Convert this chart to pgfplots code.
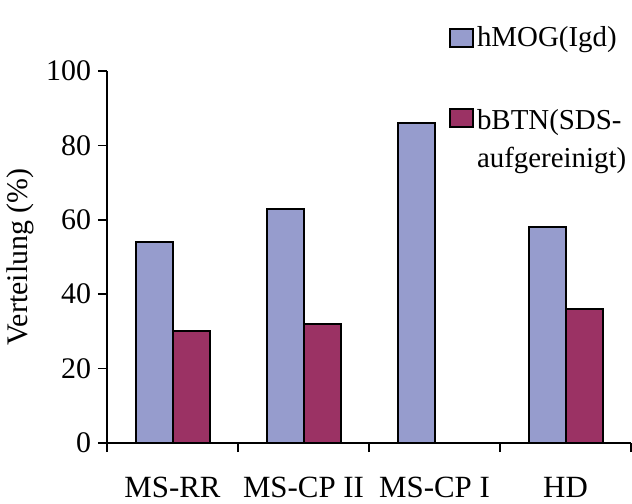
\documentclass[border=0pt]{standalone}
\usepackage{pgfplots}
\pgfplotsset{compat=1.18}
\usepackage{fontspec}
\setmainfont{Liberation Serif}
\definecolor{hmog}{RGB}{150,156,205}
\definecolor{bbtn}{RGB}{155,50,100}
\begin{document}
\begin{tikzpicture}
\begin{axis}[
  at={(0,0)}, anchor=south west,
  scale only axis, width=262bp, height=186bp,
  xmin=-0.5, xmax=3.5, ymin=0, ymax=100,
  axis lines*=left,
  axis line style={line width=0.8bp},
  ybar=0pt, bar width=18.5bp,
  ytick={0,20,40,60,80,100},
  xtick={-0.5,0.5,1.5,2.5,3.5}, xticklabels={},
  extra x ticks={0,1,2,3},
  extra x tick labels={MS-RR, MS-CP II, MS-CP I, HD},
  extra x tick style={major tick length=0pt, tick style={draw=none},
     xticklabel style={anchor=base, yshift=-27bp, font=\fontsize{15.5}{18}\selectfont}},
  tick align=outside,
  major tick length=4.5bp,
  tick style={line width=0.8bp, black},
  tick label style={font=\fontsize{15}{18}\selectfont},
  /pgf/number format/assume math mode=true,
  ylabel={Verteilung (\%)},
  ylabel style={font=\fontsize{15}{18}\selectfont, at={(axis description cs:-0.165,0.5)}, anchor=center},
  legend image code/.code={\draw[#1] (0bp,-4.5bp) rectangle (11.5bp,4.5bp);},
  legend style={at={(rel axis cs:0.652,1.13)}, anchor=north west, draw=none, fill=none,
     inner sep=0pt, row sep=24bp, font=\fontsize{14.5}{19}\selectfont,
     nodes={inner sep=1.5bp}},
  legend cell align=left,
]
\addplot[fill=hmog, draw=black, line width=1bp] coordinates {(0,54) (1,63) (2,86) (3,58)};
\addlegendentry{hMOG(Igd)}
\addplot[fill=bbtn, draw=black, line width=1bp] coordinates {(0,30) (1,32) (3,36)};
\addlegendentry{\begin{tabular}[t]{@{}l@{}}bBTN(SDS-\\aufgereinigt)\end{tabular}}
\end{axis}
\pgfresetboundingbox
\path (-53.5bp,-30.5bp) rectangle (262.5bp,221.5bp);
\end{tikzpicture}
\end{document}
